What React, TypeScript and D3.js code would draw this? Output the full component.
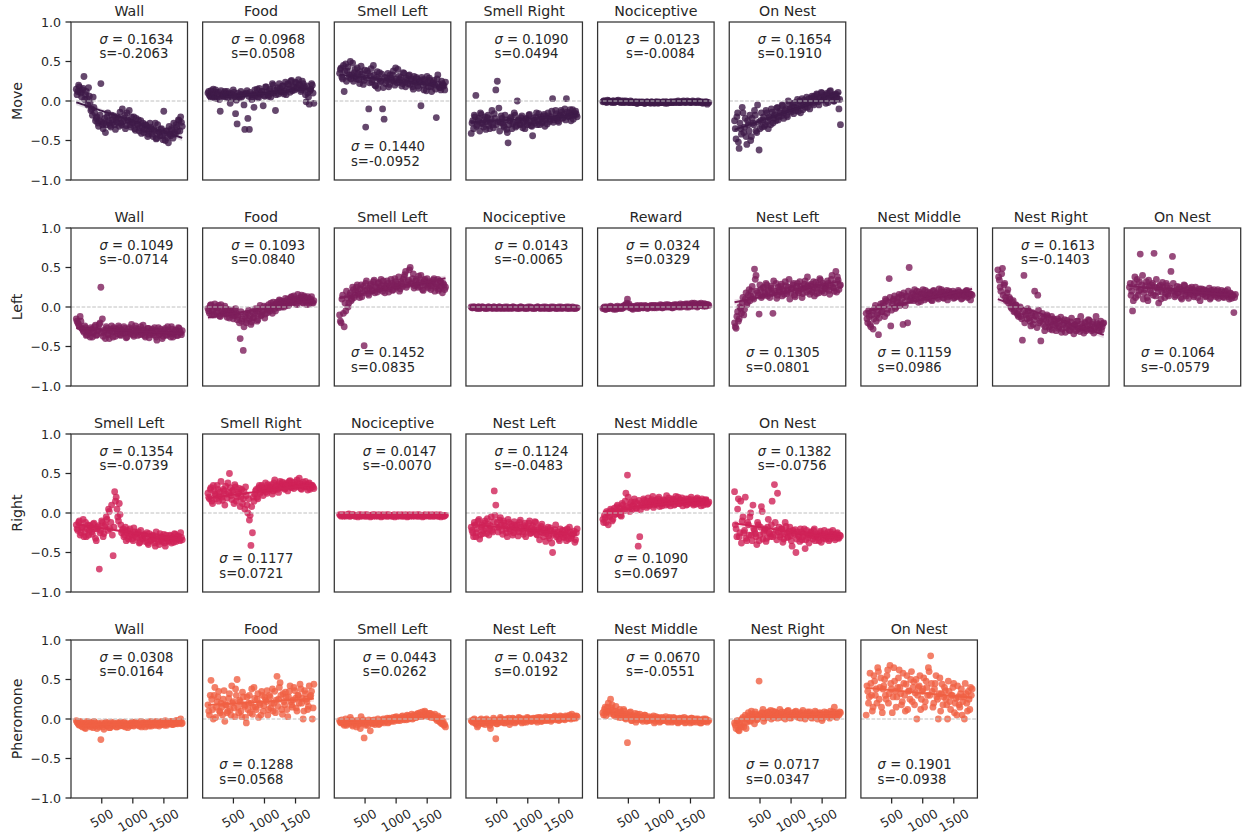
import React from 'react';
import * as d3 from 'd3';

// ---------------- data (y values x100; series A on the even sampling steps from 90 to 1795,
// series B on the half steps in between) ----------------
const stepStart = 90;
const stepEnd = 1795;
const xTicks = [500, 1000, 1500];
const yTicks = [-1, -0.5, 0, 0.5, 1];
const yTickLabels = ['\u22121.0', '\u22120.5', '0.0', '0.5', '1.0'];
const rowLabels = ['Move', 'Left', 'Right', 'Pheromone'];
const rowColors = ['#3e1a48', '#7d1e5b', '#cf2257', '#f06043'];

// Move
const moveWall = [15, 12, 18, 10, 14, 31, 8, 3, 17, -2, -10, 5, -15, -22, -28, -25, 22, -30, -28, -40, -20, -25, -31, -18, -27, -30, -24, -20, -32, -28, -10, -22, -35, -15, -25, -30, -20, -28, -35, -22, -30, -38, -25, -33, -40, -30, -36, -42, -28, -35, -45, -38, -48, -30, -40, -36, -44, -13, -50, -38, -53, -42, -35, -47, -40, -30, -38, -25, -20, -32];
const moveWallB = [8, 20, 12, 5, 16, 2, 12, -5, 6, -12, -18, -8, -25, -20, -32, -18, -26, -35, -22, -30, -15, -28, -33, -24, -19, -36, -27, -22, -14, -30, -26, -18, -31, -24, -12, -33, -27, -20, -37, -29, -24, -34, -41, -28, -36, -31, -45, -38, -33, -42, -36, -28, -47, -39, -44, -35, -49, -41, -38, -46, -32, -44, -37, -28, -42, -33, -24, -38, -27];
const moveFood = [10, 7, 13, 5, 9, 14, 3, 11, -13, 8, 6, 12, 9, 4, 10, 7, 3, 11, -16, -29, 6, 8, 5, 9, -36, 10, -22, -36, 8, 3, -8, 7, 15, 4, 9, 12, -6, 6, 18, 8, 13, 5, 22, 10, -12, 14, 9, 16, 11, 19, 12, 8, 22, 15, 25, 13, 18, 24, 16, 27, 20, 14, 22, 18, -1, 10, -4, 15, 20, -3];
const moveFoodB = [12, 6, 9, 15, 4, 11, 8, 2, 13, 7, 10, 5, 12, 8, -3, 9, 14, 6, 1, 10, 4, 12, 7, -5, 9, 13, 6, 11, 2, 8, 14, 10, 5, 16, 9, 12, 7, 18, 11, 6, 15, 10, 20, 13, 8, 17, 22, 12, 19, 9, 24, 15, 21, 11, 26, 18, 14, 23, 17, 21, 12, 25, 16, 8, 19, 5, 13, 22, 10];
const moveSmellLeft = [35, 42, 28, 12, 47, 38, 30, 50, 33, 25, 40, 28, 35, 22, 44, 30, 26, -33, 38, -10, 32, 24, 45, 20, 30, 16, 36, 25, -10, -23, 22, 29, 18, 33, 26, 38, 20, 28, 40, 24, 30, 22, 35, 18, 27, 32, 21, 28, 15, 25, 30, 19, 24, -6, 27, 14, 22, 31, 18, 26, 12, 23, 20, -21, 33, 17, 14, 22, 19, 24];
const moveSmellLeftB = [40, 30, 45, 38, 25, 43, 33, 28, 48, 36, 31, 42, 27, 37, 34, 21, 39, 29, 35, 23, 41, 27, 33, 19, 37, 28, 24, 34, 17, 30, 26, 35, 21, 29, 33, 25, 42, 23, 31, 27, 19, 36, 24, 29, 22, 33, 26, 18, 31, 23, 28, 16, 25, 30, 20, 27, 13, 24, 29, 18, 22, 26, 15, 28, 21, 17, 25, 20, 14];
const moveSmellRight = [-41, -25, -18, 7, -30, -22, -15, -28, -33, -20, -26, -18, -35, -23, -30, -16, 14, 25, -9, -27, -22, -31, -18, -36, -53, -25, -20, -29, -15, -33, 0, -24, -30, -19, -27, -35, -22, -28, -17, -31, -44, -25, -20, -30, -16, -23, -28, -19, -32, -21, -15, -26, -20, 3, -24, -12, -22, -27, -18, -14, -21, -10, 3, -19, -15, -25, -11, -18, -13, -20];
const moveSmellRightB = [-28, -35, -20, -32, -25, -38, -17, -29, -24, -36, -21, -31, -27, -12, -34, -22, -30, -26, -38, -19, -28, -33, -24, -40, -30, -22, -35, -27, -18, -31, -25, -29, -21, -34, -26, -23, -30, -18, -27, -32, -22, -28, -15, -25, -30, -20, -26, -17, -24, -29, -19, -23, -13, -27, -21, -16, -25, -19, -12, -22, -17, -24, -14, -20, -11, -18, -23, -15, -17];
const moveNociceptive = [-1, 0, -1, 1, 0, -1, -2, 0, -1, 0, 1, -1, 0, -2, -1, 0, -1, -2, 0, -1, -2, -1, -3, -1, -2, -2, -1, -3, -2, -1, -2, -3, -1, -2, -2, -1, -3, -2, -2, -1, -2, -1, -3, -2, -1, -2, -1, -2, -1, 0, -2, -1, -1, -2, -1, 0, -1, -2, -1, -1, -2, -1, 0, -2, -1, -3, -2, -1, -4, -2];
const moveNociceptiveB = [0, -1, -2, 0, -1, -1, 0, -2, -1, 0, -1, -2, -1, 0, -2, -1, -1, -2, -1, -2, -2, -1, -3, -2, -1, -2, -2, -3, -1, -2, -2, -1, -2, -3, -1, -2, -1, -2, -2, -1, -3, -1, -2, -2, -1, -2, -1, -1, -2, -1, -2, -1, 0, -1, -2, -1, -1, -2, 0, -1, -1, -2, -1, -1, -2, -1, -2, -1, -2];
const moveOnNest = [-25, -48, -15, -60, -35, -8, -40, -22, -55, -30, -18, -45, -28, -12, -38, -5, -62, -25, -33, -20, -30, -15, -35, -22, -10, -28, -18, -25, -8, -20, -15, -5, -22, -12, -18, 0, -10, -14, -3, -8, -12, 2, -6, -15, 3, -4, -8, 5, -2, -10, 4, -3, 6, 0, 8, -5, 3, 10, 1, 5, 8, -2, 12, 4, 7, 0, 9, 3, -10, -30];
const moveOnNestB = [-35, -20, -52, -28, -42, -15, -33, -45, -25, -38, -50, -22, -30, -18, -40, -27, -35, -15, -24, -32, -12, -26, -20, -30, -14, -22, -17, -9, -24, -13, -19, -6, -15, -10, -20, -4, -12, -7, -16, -2, -9, -13, 0, -6, -11, 1, -4, -8, 3, -2, 6, -5, 2, 9, -1, 5, 11, 2, 7, -3, 10, 4, 13, 6, 0, 8, 5, 11, 2];

// Left
const leftWall = [-15, -20, -25, -18, -28, -32, -26, -35, -30, -38, -28, -33, -25, -36, -30, -22, 25, -15, -32, -40, -27, -35, -30, -24, -38, -31, -28, -34, -26, -36, -30, -25, -33, -38, -28, -32, -22, -35, -30, -27, -36, -31, -25, -34, -29, -38, -32, -27, -35, -30, -33, -26, -38, -31, -35, -28, -40, -32, -27, -36, -30, -34, -25, -38, -32, -29, -36, -27, -33, -30];
const leftWallB = [-18, -22, -12, -27, -30, -24, -36, -29, -33, -26, -38, -31, -23, -35, -28, -20, -33, -37, -29, -25, -34, -40, -28, -32, -26, -37, -30, -24, -35, -29, -33, -27, -39, -31, -26, -34, -29, -37, -24, -32, -28, -35, -30, -23, -36, -31, -27, -39, -33, -28, -35, -30, -42, -26, -34, -31, -37, -29, -35, -25, -32, -38, -28, -34, -30, -36, -26, -31, -35];
const leftFood = [-2, -8, 3, -5, -10, 0, -6, 2, -12, -4, -7, 1, -9, -3, -14, -5, -8, -11, -2, -16, -10, -40, -18, -55, -12, -20, -8, -15, -22, -6, -13, -2, -18, -9, 2, -10, -4, -14, 0, -7, -3, 5, -8, 2, -5, 6, -1, 8, 0, 4, 7, 2, 10, 4, 12, 6, 14, 8, 3, 11, 9, 15, 5, 12, 7, 13, 4, 10, 6, 8];
const leftFoodB = [-5, 2, -10, -3, 4, -7, -1, -11, 3, -6, -9, -2, -13, -6, -4, -10, -15, -3, -8, -12, -20, -6, -15, -25, -9, -17, -4, -11, -19, -14, -8, -5, -16, -2, -11, -6, 1, -9, -3, 3, -5, 0, 6, -2, 4, 1, 9, 3, 7, 0, 11, 5, 2, 9, 13, 6, 10, 4, 16, 8, 12, 6, 14, 9, 3, 11, 7, 13, 5];
const leftSmellLeft = [-10, -20, 15, -25, -5, 12, 5, 18, 10, 22, 15, 25, 20, 12, 28, 18, -49, 30, 22, 15, 27, 20, 32, 18, 25, 30, 22, 35, 20, 28, 24, 33, 19, 27, 30, 22, 36, 25, 29, 20, 32, 26, 38, 45, 28, 34, 50, 30, 42, 27, 35, 25, 31, 40, 22, 33, 28, 36, 24, 30, 27, 34, 20, 29, 35, 23, 31, 18, 28, 25];
const leftSmellLeftB = [-18, 10, -8, 5, 20, 0, 15, 8, 25, 12, 20, 28, 16, 23, 13, 26, 21, 33, 17, 24, 29, 21, 34, 26, 19, 31, 24, 27, 33, 18, 26, 30, 23, 35, 21, 28, 32, 26, 38, 23, 30, 35, 41, 25, 32, 47, 29, 36, 24, 33, 28, 39, 26, 31, 21, 35, 29, 26, 32, 22, 30, 36, 25, 27, 21, 33, 26, 30, 22];
const leftNociceptive = [0, -1, 0, -1, -2, 0, -1, 0, -1, -2, -1, 0, -1, -1, -2, 0, -1, -1, 0, -2, -1, -1, 0, -1, -2, -1, -1, 0, -1, -1, -2, -1, 0, -1, -1, -2, -1, 0, -1, -1, -2, -1, -1, 0, -1, -2, -1, 0, -1, -1, -2, -1, 0, -1, -1, -2, -1, 0, -1, -2, -1, -1, 0, -1, -2, -1, 0, -1, -2, -1];
const leftNociceptiveB = [-1, 0, -1, -1, 0, -2, -1, 0, -1, -1, -2, 0, -1, -1, 0, -1, -2, -1, 0, -1, -1, -2, -1, 0, -1, -1, -2, 0, -1, -1, -1, -2, 0, -1, -1, -1, -2, -1, 0, -1, -1, -2, -1, 0, -1, -1, -1, -2, 0, -1, -1, -2, -1, 0, -1, -1, -2, -1, 0, -1, -1, -1, -2, 0, -1, -1, -2, -1, -1];
const leftReward = [-2, 0, -3, -1, -2, 1, -1, -3, 0, -2, -1, -2, 0, -1, 2, 3, 10, 4, 0, -2, -1, 1, -2, 0, -1, 2, -1, 0, 1, -2, 0, 1, -1, 2, 0, -1, 1, 0, 2, -1, 1, 3, 0, 2, 1, -1, 2, 0, 3, 1, 2, 0, 3, 1, 4, 2, 0, 3, 5, 1, 2, 4, 1, 3, 5, 2, 4, 1, 3, 2];
const leftRewardB = [-1, -3, 0, -2, -1, 0, -2, -1, -3, 1, -1, 0, -2, 1, 0, 5, 2, -1, 1, -3, 0, -1, 2, -2, 1, 0, -1, 2, 0, -1, 1, 2, 0, -1, 2, 1, 0, 3, -1, 2, 0, 1, 3, 0, 2, -1, 3, 1, 2, 0, 4, 1, 2, 3, 0, 4, 2, 1, 3, 5, 2, 0, 4, 2, 3, 1, 4, 2, 3];
const leftNestLeft = [-20, -27, -6, -15, -2, 5, -10, 10, 3, 15, 8, 20, 12, 48, 40, 18, -9, 22, 14, 25, 16, 28, 20, 12, 24, -8, 18, 30, 15, 22, 26, 14, 20, 32, 17, 25, 10, 23, 28, 15, 21, 30, 18, 26, 12, 24, 33, 19, 27, 16, 29, 22, 14, 31, 25, 18, 34, 20, 27, 24, 23, 30, 16, 35, 25, 20, 45, 38, 22, 28];
const leftNestLeftB = [-25, -12, -18, 0, -8, 12, -3, 18, 6, 22, 14, 26, 10, 35, 20, 15, 28, 12, 24, 18, 30, 14, 22, 26, 17, 33, 20, 11, 25, 19, 29, 22, 16, 27, 21, 35, 18, 24, 30, 13, 26, 20, 32, 23, 17, 29, 25, 38, 21, 27, 19, 32, 24, 17, 28, 36, 22, 30, 18, 26, 33, 21, 28, 40, 24, 30, 19, 34, 27];
const leftNestMiddle = [-8, -20, -12, -25, -5, -15, 2, -10, -35, 0, -6, 5, -12, 8, -3, 36, -24, 4, 10, -2, 8, 12, 2, 15, -22, 6, 14, -20, 50, 10, 18, 8, 14, 20, 6, 16, 12, 22, 9, 15, 19, 11, 17, 8, 21, 14, 18, 10, 16, 22, 12, 19, 15, 9, 20, 14, 17, 11, 18, 13, 21, 15, 10, 18, 14, 20, 12, 17, 9, 15];
const leftNestMiddleB = [-15, -5, -22, -10, -28, -2, -18, -8, -14, 4, -6, 2, 10, -8, 6, 12, -4, 8, 14, 0, 6, 16, 4, 11, 18, 2, 13, 20, 8, 12, 16, 22, 10, 14, 19, 7, 17, 13, 21, 11, 15, 18, 9, 20, 14, 17, 12, 23, 15, 19, 11, 16, 21, 13, 18, 15, 20, 12, 17, 14, 19, 16, 11, 18, 15, 21, 13, 17, 16];
const leftNestRight = [47, 34, 20, 49, 28, 12, 18, 5, 10, -2, 8, -5, 2, -10, -3, -12, -42, 40, -8, -15, -5, -18, -10, -22, 20, -12, 15, -20, -43, -8, -15, -25, -10, -20, -28, -12, -22, -18, -30, -15, -25, -13, -28, -20, -32, -17, -24, -30, -14, -26, -22, -30, -18, -27, -12, -25, -33, -20, -28, -16, -24, -30, -19, -27, -12, -22, -30, -18, -25, -20];
const leftNestRightB = [38, 25, 42, 15, 30, 8, 22, 12, 0, 6, -6, 3, -8, -12, 0, -15, -6, -20, -10, -2, -14, -24, -7, -16, -11, -26, -4, -18, -14, -22, -30, -17, -12, -25, -19, -29, -15, -23, -21, -27, -18, -32, -22, -16, -26, -21, -29, -19, -25, -34, -23, -18, -28, -31, -21, -26, -19, -30, -24, -17, -28, -22, -33, -25, -20, -27, -23, -29, -21];
const leftOnNest = [25, 15, -5, 30, 12, 35, 20, 67, 28, 10, 22, 32, 8, 26, 18, 30, 68, 14, 24, 5, 28, 19, 25, 12, 30, 16, 22, 45, 64, 20, 15, 26, 18, 23, 10, 21, 27, 14, 19, 24, 17, 22, 13, 25, 18, 20, 8, 23, 16, 21, 14, 19, 24, 12, 18, 22, 15, 20, 11, 17, 21, 13, 18, 15, 22, 10, 17, 14, -7, 16];
const leftOnNestB = [30, 20, 8, 38, 25, 15, 32, 22, 40, 18, 27, 12, 34, 21, 28, 15, 25, 35, 19, 26, 10, 31, 22, 17, 27, 14, 24, 20, 30, 13, 22, 18, 25, 12, 20, 28, 16, 22, 11, 19, 25, 15, 21, 18, 12, 23, 19, 16, 22, 13, 20, 17, 10, 21, 16, 19, 13, 22, 17, 14, 19, 12, 20, 16, 13, 18, 11, 15, 12];

// Right
const rightSmellLeft = [-15, -22, -10, -25, -18, -30, -12, -20, -28, -16, -24, -14, -20, -35, -18, -71, -22, -12, -26, -15, -8, 5, -20, 10, -54, 27, 20, -5, 12, -15, -22, -30, -18, -25, -33, -20, -28, -35, -24, -30, -26, -38, -22, -32, -28, -36, -25, -40, -30, -34, -28, -38, -24, -33, -40, -30, -36, -27, -42, -32, -35, -28, -38, -31, -26, -36, -30, -33, -25, -34];
const rightSmellLeftB = [-20, -12, -28, -18, -8, -24, -30, -15, -22, -19, -27, -13, -32, -20, -16, -25, -10, -30, -17, -5, -22, 2, -12, -28, -18, 15, 5, -10, -2, -25, -20, -28, -35, -22, -30, -26, -33, -19, -27, -31, -24, -37, -29, -33, -27, -31, -38, -26, -35, -29, -33, -42, -30, -36, -26, -34, -31, -38, -28, -33, -36, -29, -32, -37, -27, -33, -29, -35, -31];
const rightSmellRight = [25, 18, 32, 12, 28, 22, 35, 15, 27, 20, 30, 10, 24, 38, 50, 22, 28, 12, 33, 20, 26, 8, 30, 18, 5, 22, 0, -9, -41, -25, 15, 28, 20, 32, 25, 35, 22, 30, 27, 36, 29, 33, 24, 38, 30, 35, 26, 40, 32, 37, 30, 36, 28, 40, 33, 38, 31, 35, 42, 34, 37, 30, 39, 33, 36, 29, 38, 32, 35, 31];
const rightSmellRightB = [20, 30, 15, 35, 24, 18, 30, 22, 40, 16, 28, 34, 19, 26, 32, 17, 29, 36, 15, 24, 31, 20, 12, 27, 33, 10, 18, -3, 8, 20, 24, 30, 18, 35, 27, 32, 29, 38, 25, 33, 31, 36, 28, 42, 34, 30, 37, 33, 39, 35, 31, 38, 36, 41, 32, 35, 39, 33, 37, 44, 31, 36, 34, 40, 33, 37, 30, 35, 33];
const rightNociceptive = [-2, -4, -3, -2, -4, -3, -1, -4, -3, -2, -4, -3, -5, -3, -2, -4, -3, -4, -2, -3, -5, -3, -4, -2, -3, -4, -3, -5, -2, -4, -3, -4, -2, -3, -4, -3, -5, -3, -2, -4, -3, -4, -3, -2, -5, -3, -4, -3, -2, -4, -3, -4, -2, -3, -5, -3, -4, -3, -2, -4, -3, -4, -3, -2, -4, -3, -5, -3, -4, -3];
const rightNociceptiveB = [-3, -2, -4, -3, -3, -2, -4, -3, -2, -3, -4, -3, -2, -4, -3, -3, -2, -4, -3, -3, -4, -2, -3, -4, -3, -2, -3, -4, -3, -3, -2, -4, -3, -3, -4, -2, -3, -4, -3, -3, -2, -4, -3, -3, -4, -2, -3, -4, -3, -3, -2, -4, -3, -3, -4, -2, -3, -3, -4, -3, -2, -4, -3, -3, -4, -2, -3, -4, -3];
const rightNestLeft = [-18, -25, -12, -30, -20, -8, -28, -15, -22, -10, -26, -14, -20, -5, -24, 28, 10, -12, -18, -6, -22, -10, -16, -25, -8, -20, -14, -28, -11, -19, -15, -24, -9, -20, -27, -13, -18, -22, -10, -25, -16, -21, -12, -28, -19, -24, -14, -30, -20, -26, -18, -32, -22, -50, -25, -15, -28, -33, -20, -27, -30, -22, -35, -25, -18, -32, -27, -23, -34, -20];
const rightNestLeftB = [-22, -30, -15, -25, -10, -33, -18, -26, -13, -20, -7, -28, -16, -22, -11, -3, -18, -24, -9, -15, -27, -13, -20, -30, -12, -23, -17, -25, -15, -21, -29, -12, -18, -24, -16, -30, -20, -13, -26, -19, -23, -11, -27, -21, -34, -17, -25, -22, -36, -24, -29, -19, -38, -27, -21, -30, -24, -35, -26, -22, -31, -28, -20, -33, -24, -29, -26, -37, -25];
const rightNestMiddle = [-8, -3, -12, 0, -5, 5, -10, 2, -2, 8, 0, 6, -4, 10, 3, 25, 48, 7, 12, 4, 10, 14, 6, -42, -30, 12, 8, 16, 10, 15, 9, 13, 17, 7, 14, 11, 18, 8, 15, 12, 16, 10, 13, 19, 9, 14, 17, 11, 15, 20, 12, 16, 9, 14, 18, 11, 15, 13, 17, 10, 14, 18, 12, 16, 9, 15, 13, 17, 11, 14];
const rightNestMiddleB = [-12, -6, 2, -15, -4, 3, -8, 6, -1, 10, 2, -3, 12, 5, 15, 8, 20, 2, 14, 9, 18, 6, 12, 16, 4, 10, 18, 13, 7, 19, 11, 15, 21, 10, 16, 13, 20, 12, 9, 17, 14, 22, 11, 16, 13, 18, 10, 21, 14, 12, 17, 19, 13, 15, 10, 18, 14, 20, 12, 16, 11, 19, 15, 13, 18, 10, 16, 14, 12];
const rightOnNest = [27, -20, 5, -30, 15, -10, -25, 20, -35, -15, -5, -28, 10, -22, -30, -12, -35, -18, 2, -25, -20, -32, -8, -26, -15, -30, 36, -22, 25, -18, -28, -20, -33, -12, -25, -30, -18, -35, -22, -27, -50, -24, -30, -20, -34, -26, -45, -22, -31, -28, -25, -33, -20, -30, -27, -35, -23, -29, -32, -26, -30, -24, -33, -27, -22, -31, -28, -25, -32, -29];
const rightOnNestB = [-15, -30, 18, -25, -38, -5, -22, -32, -12, -28, 0, -35, -20, -26, -40, -15, -28, 8, -33, -22, -36, -18, -25, -30, 15, -27, -12, -34, -24, -30, -20, -37, -26, -17, -31, -23, -29, -42, -25, -21, -33, -28, -36, -24, -30, -20, -34, -27, -38, -24, -29, -22, -35, -28, -31, -25, -37, -27, -22, -33, -29, -35, -24, -30, -27, -34, -26, -31, -28];

// Pheromone
const pherWall = [-2, -5, -8, -4, -10, -6, -12, -3, -7, -9, -5, -11, -4, -8, -6, -10, -26, -7, -13, -5, -9, -6, -11, -4, -8, -7, -10, -5, -9, -6, -8, -4, -10, -6, -7, -9, -5, -8, -4, -7, -6, -9, -3, -8, -5, -10, -6, -4, -7, -9, -5, -8, -3, -6, -9, -4, -7, -5, -2, -8, -4, -6, -3, -7, -5, -2, -6, -4, 0, -5];
const pherWallB = [-4, -7, -3, -9, -6, -11, -5, -8, -4, -10, -7, -3, -9, -12, -6, -8, -5, -10, -7, -4, -8, -11, -6, -9, -5, -7, -10, -6, -4, -8, -9, -5, -7, -11, -6, -8, -4, -9, -6, -5, -8, -7, -10, -4, -6, -8, -5, -9, -3, -7, -6, -4, -8, -5, -7, -3, -6, -8, -4, -6, -5, -3, -7, -4, -6, -2, -5, -3, -6];
const pherFood = [18, 5, 49, 12, 30, 2, 22, 35, 8, 15, 25, -3, 18, 10, 32, 5, 20, 14, 38, 50, 8, 22, 3, 28, 16, -5, 12, 30, 20, 6, 40, 15, 25, 2, 18, 35, 10, 28, 22, 5, 30, 14, 38, 20, 8, 54, 25, 46, 12, 32, 18, 28, 3, 35, 22, 15, 40, 26, 10, 30, 44, 20, 0, 36, 25, 12, 42, 30, 0, 44];
const pherFoodB = [10, 30, 25, 0, 40, 15, 28, 10, 20, 5, 36, 18, 8, 26, 12, 42, 22, 3, 30, 15, 24, 10, 34, 18, 2, 28, 20, 8, 38, 15, 26, 12, 32, 20, 5, 30, 17, 24, 36, 12, 28, 20, 10, 35, 24, 16, 40, 30, 6, 22, 34, 12, 28, 42, 18, 24, 36, 14, 30, 20, 38, 26, 10, 32, 22, 16, 28, 35, 14];
const pherSmellLeft = [-2, -5, -3, -8, 0, -6, -4, 2, -7, -3, -5, -10, -2, -6, 3, -4, -24, -8, -3, -1, -15, -5, -2, -7, -4, 0, -6, -3, -1, -5, -2, 1, -4, 0, -3, 2, -1, 3, -2, 1, 0, 4, -1, 2, 5, 0, 3, 6, 1, 4, 2, 7, 3, 5, 9, 4, 8, 6, 3, 7, 5, 2, 6, 0, 4, -3, 1, -5, -8, -10];
const pherSmellLeftB = [-4, -1, -6, -3, -8, -2, -5, -1, -9, -4, -2, -7, -3, -12, -5, -1, -6, -3, -8, -4, -2, -6, -1, -5, -3, -7, -2, -4, 0, -3, -1, -5, 1, -2, 0, -3, 2, -1, 1, -2, 3, 0, 2, -1, 4, 1, 3, 0, 5, 2, 6, 4, 8, 3, 5, 10, 6, 4, 7, 2, 5, 3, 1, -2, 2, -4, -6, -3, -7];
const pherNestLeft = [-2, -4, 0, -6, -10, -3, -1, -5, -2, -7, 0, -4, -8, -2, -5, -1, -25, -6, -3, 2, -4, -1, -5, 0, -3, -7, -2, 1, -4, -1, -3, 2, -2, -5, 0, -1, -4, 1, -2, -3, 0, -2, 1, -4, -1, 2, -3, 0, -2, 1, -1, 2, -3, 0, 3, -1, 1, -2, 4, 0, 2, -1, 3, 1, 5, 0, 2, 4, 1, 3];
const pherNestLeftB = [-3, -1, -5, -2, -8, -4, 0, -6, -3, -1, -5, -2, -12, -4, 1, -3, -6, -1, -4, 0, -2, -5, -1, -3, 1, -4, -2, 0, -5, -1, -2, 1, -3, 0, -4, -1, 2, -2, 0, -3, 1, -1, -2, 2, 0, -3, 1, -1, 3, -2, 0, 2, -1, 1, 4, 0, 2, -1, 3, 1, 0, 4, 2, 1, 3, 6, 1, 2, 4];
const pherNestMiddle = [8, 12, 4, 15, 10, 25, 18, 6, 10, 3, 8, 12, 2, 6, 10, 0, -30, 5, 9, -2, 4, 7, -1, 3, 6, 0, -3, 5, 2, -2, 3, -1, 1, 4, -3, 0, 2, -4, 1, -2, 0, 3, -3, 1, -1, -4, 2, -2, 0, -5, 1, -3, -1, 2, -4, 0, -2, -5, 1, -3, -1, -4, 0, -2, -5, -1, -3, 0, -4, -2];
const pherNestMiddleB = [5, 15, 9, 20, 7, 14, 11, 4, 16, 7, 2, 9, 5, 12, 1, 6, 3, 8, -2, 4, 1, -4, 6, 2, -1, 3, 0, 5, -3, 1, -2, 2, 0, -5, 3, -1, 1, -3, 2, -1, -2, 0, -4, 2, -1, -3, 1, -2, -4, 0, -3, 1, -2, -5, 0, -1, -3, 1, -4, -2, 0, -3, -1, -5, -2, 0, -3, -1, -2];
const pherNestRight = [-5, -12, -2, -15, -8, 0, -10, 5, -4, 8, -2, 10, 3, -6, 6, 0, 48, 4, 8, -3, 7, 2, 9, 5, 0, 10, 4, 8, 1, 6, 3, 9, 5, 0, 7, 11, 4, 2, 8, 5, 10, 3, 6, 1, 8, 4, 0, 7, 5, 9, 2, 6, 4, 8, 0, 5, 7, -2, 6, 3, 8, 4, 1, 6, 9, 15, 3, 7, 5, 8];
const pherNestRightB = [-8, -3, -14, -6, -10, 2, -5, -12, 0, 4, -3, 6, 2, 9, -1, 5, 3, 7, 12, 1, 5, 8, 3, 11, 6, 2, 9, 4, 7, 12, 2, 6, 8, 3, 10, 5, 1, 7, 4, 9, 6, 2, 8, 5, 11, 3, 6, 9, 4, 7, 1, 5, 10, 3, 6, 8, 4, 1, 9, 5, 7, 3, 10, 6, 4, 8, 2, 6, 9];
const pherOnNest = [5, 35, 28, 45, 10, 55, 30, 20, 60, 40, 15, 38, 50, 25, 62, 32, 45, 8, 65, 35, 28, 52, 40, 18, 58, 30, 44, 12, 36, 50, 22, 47, 33, 0, 40, 55, 25, 38, 15, 48, 30, 60, 80, 35, 20, 45, 28, 0, 52, 32, 18, 40, 25, 0, 35, 12, 30, 45, 20, 5, 28, 15, 38, 22, 0, 32, 10, 25, 40, 38];
const pherOnNestB = [42, 20, 58, 30, 15, 48, 38, 65, 25, 52, 8, 42, 30, 55, 20, 68, 38, 28, 48, 15, 40, 62, 32, 22, 45, 10, 55, 35, 25, 60, 40, 18, 50, 30, 42, 12, 35, 52, 22, 40, 65, 30, 45, 15, 38, 55, 25, 32, 10, 44, 28, 36, 18, 48, 22, 30, 40, 8, 26, 42, 18, 32, 5, 28, 45, 20, 35, 12, 30];

type Spec = { row: number; col: number; title: string; sigma: string; slope: string; pos: 'top' | 'bottom'; a: number[]; b: number[] };

const panelSpecs: Spec[] = [
  { row: 0, col: 0, title: 'Wall', sigma: '0.1634', slope: '-0.2063', pos: 'top', a: moveWall, b: moveWallB },
  { row: 0, col: 1, title: 'Food', sigma: '0.0968', slope: '0.0508', pos: 'top', a: moveFood, b: moveFoodB },
  { row: 0, col: 2, title: 'Smell Left', sigma: '0.1440', slope: '-0.0952', pos: 'bottom', a: moveSmellLeft, b: moveSmellLeftB },
  { row: 0, col: 3, title: 'Smell Right', sigma: '0.1090', slope: '0.0494', pos: 'top', a: moveSmellRight, b: moveSmellRightB },
  { row: 0, col: 4, title: 'Nociceptive', sigma: '0.0123', slope: '-0.0084', pos: 'top', a: moveNociceptive, b: moveNociceptiveB },
  { row: 0, col: 5, title: 'On Nest', sigma: '0.1654', slope: '0.1910', pos: 'top', a: moveOnNest, b: moveOnNestB },

  { row: 1, col: 0, title: 'Wall', sigma: '0.1049', slope: '-0.0714', pos: 'top', a: leftWall, b: leftWallB },
  { row: 1, col: 1, title: 'Food', sigma: '0.1093', slope: '0.0840', pos: 'top', a: leftFood, b: leftFoodB },
  { row: 1, col: 2, title: 'Smell Left', sigma: '0.1452', slope: '0.0835', pos: 'bottom', a: leftSmellLeft, b: leftSmellLeftB },
  { row: 1, col: 3, title: 'Nociceptive', sigma: '0.0143', slope: '-0.0065', pos: 'top', a: leftNociceptive, b: leftNociceptiveB },
  { row: 1, col: 4, title: 'Reward', sigma: '0.0324', slope: '0.0329', pos: 'top', a: leftReward, b: leftRewardB },
  { row: 1, col: 5, title: 'Nest Left', sigma: '0.1305', slope: '0.0801', pos: 'bottom', a: leftNestLeft, b: leftNestLeftB },
  { row: 1, col: 6, title: 'Nest Middle', sigma: '0.1159', slope: '0.0986', pos: 'bottom', a: leftNestMiddle, b: leftNestMiddleB },
  { row: 1, col: 7, title: 'Nest Right', sigma: '0.1613', slope: '-0.1403', pos: 'top', a: leftNestRight, b: leftNestRightB },
  { row: 1, col: 8, title: 'On Nest', sigma: '0.1064', slope: '-0.0579', pos: 'bottom', a: leftOnNest, b: leftOnNestB },

  { row: 2, col: 0, title: 'Smell Left', sigma: '0.1354', slope: '-0.0739', pos: 'top', a: rightSmellLeft, b: rightSmellLeftB },
  { row: 2, col: 1, title: 'Smell Right', sigma: '0.1177', slope: '0.0721', pos: 'bottom', a: rightSmellRight, b: rightSmellRightB },
  { row: 2, col: 2, title: 'Nociceptive', sigma: '0.0147', slope: '-0.0070', pos: 'top', a: rightNociceptive, b: rightNociceptiveB },
  { row: 2, col: 3, title: 'Nest Left', sigma: '0.1124', slope: '-0.0483', pos: 'top', a: rightNestLeft, b: rightNestLeftB },
  { row: 2, col: 4, title: 'Nest Middle', sigma: '0.1090', slope: '0.0697', pos: 'bottom', a: rightNestMiddle, b: rightNestMiddleB },
  { row: 2, col: 5, title: 'On Nest', sigma: '0.1382', slope: '-0.0756', pos: 'top', a: rightOnNest, b: rightOnNestB },

  { row: 3, col: 0, title: 'Wall', sigma: '0.0308', slope: '0.0164', pos: 'top', a: pherWall, b: pherWallB },
  { row: 3, col: 1, title: 'Food', sigma: '0.1288', slope: '0.0568', pos: 'bottom', a: pherFood, b: pherFoodB },
  { row: 3, col: 2, title: 'Smell Left', sigma: '0.0443', slope: '0.0262', pos: 'top', a: pherSmellLeft, b: pherSmellLeftB },
  { row: 3, col: 3, title: 'Nest Left', sigma: '0.0432', slope: '0.0192', pos: 'top', a: pherNestLeft, b: pherNestLeftB },
  { row: 3, col: 4, title: 'Nest Middle', sigma: '0.0670', slope: '-0.0551', pos: 'top', a: pherNestMiddle, b: pherNestMiddleB },
  { row: 3, col: 5, title: 'Nest Right', sigma: '0.0717', slope: '0.0347', pos: 'bottom', a: pherNestRight, b: pherNestRightB },
  { row: 3, col: 6, title: 'On Nest', sigma: '0.1901', slope: '-0.0938', pos: 'bottom', a: pherOnNest, b: pherOnNestB },
];

// ---------------- layout ----------------
const W = 1245;
const H = 839;
const colX0 = 71;
const colStep = 131.65;
const panelW = 116.5;
const rowY0 = 22;
const rowStep = 206;
const panelH = 158;
const lastRow = 3;
const FONT = "'DejaVu Sans', sans-serif";
const TXT = '#262626';
const tickLen = 5.5;
const titleSize = 14.2;
const tickSize = 12.6;
const noteSize = 13.2;

const margin = 0.05 * (stepEnd - stepStart);
const xDomain: [number, number] = [stepStart - margin, stepEnd + margin];

function regression(xs: number[], ys: number[]) {
  const n = xs.length;
  const xbar = d3.mean(xs)!;
  const ybar = d3.mean(ys)!;
  let sxx = 0, sxy = 0;
  for (let i = 0; i < n; i++) {
    sxx += (xs[i] - xbar) ** 2;
    sxy += (xs[i] - xbar) * (ys[i] - ybar);
  }
  const b = sxy / sxx;
  const a = ybar - b * xbar;
  let sse = 0;
  for (let i = 0; i < n; i++) sse += (ys[i] - a - b * xs[i]) ** 2;
  const s2 = sse / (n - 2);
  const grid = d3.range(0, 41).map((k) => stepStart + (k / 40) * (stepEnd - stepStart));
  return grid.map((x) => {
    const yh = a + b * x;
    const se = Math.sqrt(s2 * (1 / n + (x - xbar) ** 2 / sxx));
    return { x, y: yh, lo: yh - 1.97 * se, hi: yh + 1.97 * se };
  });
}

function Panel({ spec }: { spec: Spec }) {
  const left = colX0 + spec.col * colStep;
  const top = rowY0 + spec.row * rowStep;
  const x = d3.scaleLinear().domain(xDomain).range([left, left + panelW]);
  const y = d3.scaleLinear().domain([-1, 1]).range([top + panelH, top]);
  const color = rowColors[spec.row];
  const nA = spec.a.length;
  const h = (stepEnd - stepStart) / (nA - 1);
  const nB = spec.b.length;
  const pts: { x: number; y: number }[] = [];
  spec.a.forEach((v, i) => pts.push({ x: stepStart + i * h, y: v / 100 }));
  spec.b.forEach((v, j) => {
    const xb = nB > 1 ? stepStart + h / 2 + (j * (stepEnd - stepStart - h)) / (nB - 1) : stepStart + h / 2;
    pts.push({ x: xb, y: v / 100 });
  });
  pts.sort((p, q) => p.x - q.x);
  const reg = regression(pts.map((p) => p.x), pts.map((p) => p.y));
  const line = d3.line<{ x: number; y: number }>().x((d) => x(d.x)).y((d) => y(d.y));
  const area = d3
    .area<{ x: number; lo: number; hi: number }>()
    .x((d) => x(d.x))
    .y0((d) => y(d.lo))
    .y1((d) => y(d.hi));

  const isTop = spec.pos === 'top';
  const tx = left + (isTop ? 28.5 : 16.7);
  const ty1 = top + (isTop ? 21.5 : 128.7);
  const ty2 = top + (isTop ? 35.5 : 143.7);
  const clipId = `clip-${spec.row}-${spec.col}`;

  return (
    <g>
      <defs>
        <clipPath id={clipId}>
          <rect x={left} y={top} width={panelW} height={panelH} />
        </clipPath>
      </defs>
      <g clipPath={`url(#${clipId})`}>
        {pts.map((p, i) => (
          <circle key={i} cx={x(p.x)} cy={y(p.y)} r={3.4} fill={color} fillOpacity={0.8} />
        ))}
        <path d={area(reg) || ''} fill={color} fillOpacity={0.15} />
        <path d={line(reg) || ''} fill="none" stroke={color} strokeWidth={1.9} />
        <line x1={left} x2={left + panelW} y1={y(0)} y2={y(0)} stroke="#c0c0c0" strokeWidth={1} strokeDasharray="3.7,1.6" />
      </g>
      <rect x={left} y={top} width={panelW} height={panelH} fill="none" stroke="#333" strokeWidth={1.25} />
      <text x={left + panelW / 2} y={top - 6.5} textAnchor="middle" fontFamily={FONT} fontSize={titleSize} fill={TXT}>
        {spec.title}
      </text>
      <text x={tx} y={ty1} fontFamily={FONT} fontSize={noteSize} fill={TXT}>
        <tspan fontStyle="italic">σ</tspan>
        {' = ' + spec.sigma}
      </text>
      <text x={tx} y={ty2} fontFamily={FONT} fontSize={noteSize} fill={TXT}>
        {'s=' + spec.slope}
      </text>
      {spec.col === 0 &&
        yTicks.map((t, i) => (
          <g key={'yt' + i}>
            <line x1={left - tickLen} x2={left} y1={y(t)} y2={y(t)} stroke={TXT} strokeWidth={1.25} />
            <text x={left - tickLen - 4.5} y={y(t)} textAnchor="end" dominantBaseline="central" fontFamily={FONT} fontSize={tickSize} fill={TXT}>
              {yTickLabels[i]}
            </text>
          </g>
        ))}
      {spec.col === 0 && (
        <text
          transform={`translate(17,${top + panelH / 2}) rotate(-90)`}
          textAnchor="middle"
          dominantBaseline="central"
          fontFamily={FONT}
          fontSize={titleSize}
          fill={TXT}
        >
          {rowLabels[spec.row]}
        </text>
      )}
      {spec.row === lastRow &&
        xTicks.map((t) => {
          const label = String(t);
          const w = label.length * 0.636 * tickSize;
          const hh = w * Math.sin(Math.PI / 6) + tickSize * Math.cos(Math.PI / 6);
          const cx = x(t);
          const cy = top + panelH + tickLen + 3.5 + hh / 2;
          return (
            <g key={'xt' + t}>
              <line x1={cx} x2={cx} y1={top + panelH} y2={top + panelH + tickLen} stroke={TXT} strokeWidth={1.25} />
              <text
                x={cx}
                y={cy}
                transform={`rotate(-30,${cx},${cy})`}
                textAnchor="middle"
                dominantBaseline="central"
                fontFamily={FONT}
                fontSize={tickSize}
                fill={TXT}
              >
                {label}
              </text>
            </g>
          );
        })}
    </g>
  );
}

export default function App() {
  return (
    <svg
      width={W}
      height={H}
      viewBox={`0 0 ${W} ${H}`}
      style={{ position: 'absolute', left: 0, top: 0, background: '#fff' }}
    >
      <rect x={0} y={0} width={W} height={H} fill="#fff" />
      {panelSpecs.map((s) => (
        <Panel key={`${s.row}-${s.col}`} spec={s} />
      ))}
    </svg>
  );
}
